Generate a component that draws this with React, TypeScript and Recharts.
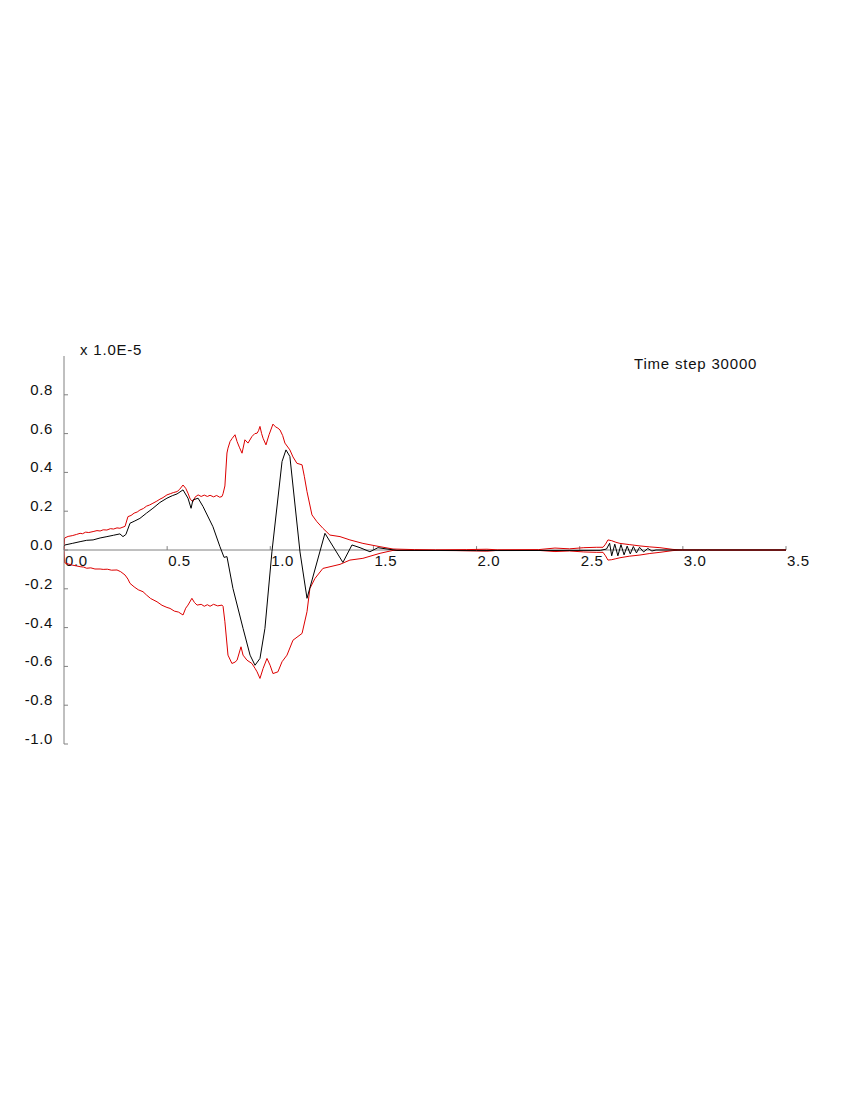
import React from 'react';
import { LineChart, Line, XAxis, YAxis, ReferenceLine } from 'recharts';

// displacement values are in units of 1.0E-5
const xTicks = [0, 0.5, 1, 1.5, 2, 2.5, 3, 3.5];
const yTicks = [-1, -0.8, -0.6, -0.4, -0.2, 0, 0.2, 0.4, 0.6, 0.8];

const upperEnvelope = [
  [0, 0], [0.003, 0.062], [0.02, 0.07], [0.04, 0.074], [0.06, 0.08], [0.078, 0.086],
  [0.09, 0.084], [0.105, 0.092], [0.12, 0.09], [0.141, 0.095], [0.16, 0.1], [0.175, 0.098],
  [0.19, 0.104], [0.208, 0.103], [0.225, 0.11], [0.24, 0.108], [0.257, 0.114], [0.271, 0.112],
  [0.286, 0.118], [0.296, 0.122], [0.31, 0.172], [0.325, 0.178], [0.34, 0.19], [0.355, 0.196],
  [0.368, 0.206], [0.385, 0.214], [0.4, 0.226], [0.415, 0.232], [0.431, 0.241], [0.45, 0.252],
  [0.465, 0.262], [0.48, 0.27], [0.499, 0.284], [0.515, 0.29], [0.53, 0.296], [0.548, 0.301],
  [0.56, 0.312], [0.577, 0.335], [0.59, 0.318], [0.601, 0.293], [0.612, 0.262], [0.625, 0.249],
  [0.635, 0.272], [0.65, 0.284], [0.665, 0.276], [0.68, 0.283], [0.695, 0.276], [0.708, 0.282],
  [0.725, 0.274], [0.74, 0.281], [0.755, 0.272], [0.766, 0.276], [0.771, 0.29], [0.78, 0.33],
  [0.79, 0.5], [0.795, 0.525], [0.805, 0.559], [0.815, 0.575], [0.829, 0.594], [0.839, 0.559],
  [0.85, 0.53], [0.863, 0.499], [0.877, 0.568], [0.892, 0.551], [0.911, 0.585], [0.925, 0.6],
  [0.936, 0.602], [0.943, 0.615], [0.95, 0.637], [0.958, 0.6], [0.965, 0.576], [0.979, 0.542],
  [0.994, 0.594], [1.013, 0.649], [1.025, 0.635], [1.037, 0.628], [1.047, 0.619], [1.06, 0.59],
  [1.071, 0.551], [1.095, 0.516], [1.11, 0.48], [1.129, 0.447], [1.154, 0.439], [1.165, 0.38],
  [1.178, 0.301], [1.202, 0.181], [1.226, 0.146], [1.255, 0.112], [1.289, 0.077], [1.338, 0.069],
  [1.386, 0.052], [1.449, 0.034], [1.532, 0.017], [1.595, 0.005], [1.7, 0.002], [1.8, 0.001],
  [1.95, 0.002], [2.05, 0.004], [2.1, 0.001], [2.3, 0.002], [2.38, 0.01], [2.45, 0.006],
  [2.52, 0.012], [2.58, 0.014], [2.613, 0.014], [2.625, 0.03], [2.637, 0.052], [2.655, 0.048],
  [2.675, 0.04], [2.695, 0.034], [2.74, 0.028], [2.792, 0.021], [2.84, 0.016], [2.889, 0.012],
  [2.952, 0.003], [3.0, 0], [3.5, 0],
];

const lowerEnvelope = [
  [0, 0], [0.003, -0.066], [0.02, -0.072], [0.04, -0.078], [0.06, -0.082], [0.078, -0.086],
  [0.095, -0.088], [0.11, -0.094], [0.13, -0.092], [0.15, -0.098], [0.175, -0.098], [0.19, -0.1],
  [0.21, -0.099], [0.23, -0.104], [0.257, -0.103], [0.275, -0.112], [0.296, -0.129], [0.31, -0.15],
  [0.32, -0.172], [0.34, -0.19], [0.36, -0.205], [0.383, -0.215], [0.4, -0.232], [0.42, -0.25],
  [0.451, -0.267], [0.475, -0.285], [0.499, -0.296], [0.514, -0.301], [0.535, -0.315], [0.555, -0.32],
  [0.577, -0.335], [0.59, -0.3], [0.601, -0.284], [0.62, -0.249], [0.632, -0.27], [0.645, -0.284],
  [0.665, -0.28], [0.68, -0.29], [0.695, -0.282], [0.708, -0.29], [0.725, -0.28], [0.745, -0.288],
  [0.766, -0.284], [0.771, -0.29], [0.78, -0.37], [0.795, -0.542], [0.814, -0.585], [0.829, -0.578],
  [0.839, -0.568], [0.858, -0.499], [0.868, -0.542], [0.887, -0.568], [0.911, -0.585], [0.926, -0.61],
  [0.936, -0.628], [0.95, -0.662], [0.965, -0.611], [0.984, -0.559], [0.999, -0.594], [1.013, -0.637],
  [1.037, -0.628], [1.057, -0.576], [1.081, -0.542], [1.11, -0.465], [1.154, -0.43], [1.178, -0.318],
  [1.192, -0.198], [1.217, -0.146], [1.255, -0.095], [1.338, -0.074], [1.386, -0.052], [1.449, -0.043],
  [1.532, -0.017], [1.595, -0.002], [1.7, -0.002], [1.9, -0.003], [2.05, -0.006], [2.1, -0.002],
  [2.3, -0.002], [2.38, -0.008], [2.45, -0.005], [2.52, -0.01], [2.58, -0.012], [2.613, -0.012],
  [2.625, -0.03], [2.637, -0.052], [2.655, -0.05], [2.675, -0.045], [2.695, -0.04], [2.74, -0.032],
  [2.792, -0.026], [2.84, -0.018], [2.889, -0.012], [2.952, -0.003], [3.0, 0], [3.5, 0],
];

const displacement = [
  [0, 0.02], [0.005, 0.026], [0.04, 0.034], [0.078, 0.043], [0.11, 0.05], [0.141, 0.052],
  [0.175, 0.062], [0.208, 0.069], [0.24, 0.076], [0.271, 0.083], [0.286, 0.069], [0.3, 0.08],
  [0.32, 0.138], [0.34, 0.148], [0.368, 0.163], [0.4, 0.19], [0.431, 0.215], [0.465, 0.245],
  [0.499, 0.267], [0.525, 0.28], [0.548, 0.289], [0.577, 0.31], [0.601, 0.267], [0.616, 0.215],
  [0.625, 0.258], [0.65, 0.267], [0.674, 0.224], [0.722, 0.12], [0.756, 0.017], [0.776, -0.038],
  [0.79, -0.034], [0.819, -0.198], [0.868, -0.404], [0.902, -0.542], [0.926, -0.594], [0.95, -0.559],
  [0.974, -0.404], [1.008, -0.009], [1.057, 0.456], [1.076, 0.516], [1.095, 0.482], [1.144, -0.01],
  [1.178, -0.249], [1.265, 0.086], [1.352, -0.064], [1.396, 0.026], [1.435, 0.012], [1.483, -0.009],
  [1.522, 0.012], [1.566, 0.005], [1.614, -0.002], [2.0, -0.003], [2.6, -0.002], [2.63, 0.005],
  [2.645, 0.035], [2.655, -0.03], [2.67, 0.03], [2.685, -0.03], [2.7, 0.028], [2.715, -0.025],
  [2.73, 0.02], [2.745, -0.02], [2.76, 0.018], [2.775, -0.015], [2.79, 0.014], [2.81, -0.01],
  [2.83, 0.008], [2.85, -0.005], [2.87, 0], [3.0, 0], [3.5, 0],
];

const toPoints = (rows: number[][]) => rows.map(([x, y]) => ({ x, y }));

const FONT = '"Liberation Sans", Arial, sans-serif';
const AXIS = '#808080';

function YTick(props: any) {
  const { x, y, payload } = props;
  return (
    <text x={x} y={y} textAnchor="end" fontFamily={FONT} fontSize={15} fill="#111" letterSpacing={0.6}>
      {Number(payload.value).toFixed(1)}
    </text>
  );
}

function XTickLabel(props: any) {
  const { viewBox, value } = props;
  if (!viewBox) return null;
  return (
    <text x={viewBox.x + 1} y={viewBox.y + viewBox.height + 16} fontFamily={FONT} fontSize={15} fill="#111" letterSpacing={0.6}>
      {value.toFixed(1)}
    </text>
  );
}

export default function App() {
  return (
    <div style={{ position: 'absolute', left: 0, top: 0, width: 850, height: 1100, background: '#fff' }}>
      <LineChart width={850} height={1100} margin={{ top: 356, right: 64, bottom: 356, left: 0 }}>
        <XAxis type="number" dataKey="x" domain={[0, 3.5]} ticks={xTicks} hide allowDataOverflow />
        <YAxis
          type="number"
          domain={[-1, 1]}
          ticks={yTicks}
          interval={0}
          width={64}
          stroke={AXIS}
          tickSize={-4}
          tickMargin={15}
          tick={<YTick />}
          allowDataOverflow
        />
        <ReferenceLine y={0} stroke={AXIS} />
        {xTicks.map((t) => (
          <ReferenceLine
            key={t}
            segment={[{ x: t, y: 0 }, { x: t, y: 0.02 }]}
            stroke={AXIS}
            label={<XTickLabel value={t} />}
          />
        ))}
        <Line data={toPoints(upperEnvelope)} dataKey="y" type="linear" stroke="#dd0000" strokeWidth={1} dot={false} isAnimationActive={false} />
        <Line data={toPoints(lowerEnvelope)} dataKey="y" type="linear" stroke="#dd0000" strokeWidth={1} dot={false} isAnimationActive={false} />
        <Line data={toPoints(displacement)} dataKey="y" type="linear" stroke="#000" strokeWidth={1} dot={false} isAnimationActive={false} />
      </LineChart>
      <svg width={850} height={1100} style={{ position: 'absolute', left: 0, top: 0, pointerEvents: 'none' }}>
        <text x={80} y={355} fontFamily={FONT} fontSize={15} fill="#111" letterSpacing={0.8}>x 1.0E-5</text>
        <text x={634} y={369} fontFamily={FONT} fontSize={15} fill="#111" letterSpacing={0.8}>Time step 30000</text>
      </svg>
    </div>
  );
}
